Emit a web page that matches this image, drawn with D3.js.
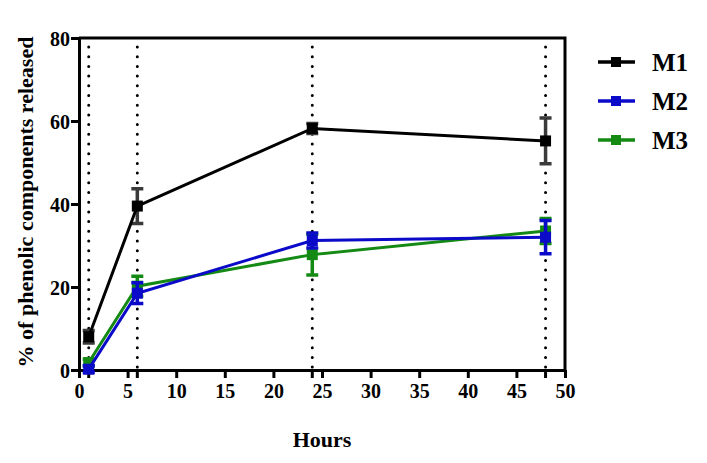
<!DOCTYPE html>
<html>
<head>
<meta charset="utf-8">
<script src="https://cdn.jsdelivr.net/npm/d3@7"></script>
<style>
  body { margin: 0; background: #fff; }
  text { font-family: "Liberation Serif", serif; font-weight: bold; fill: #000; }
</style>
</head>
<body>
<div id="chart"></div>
<script>
// data
const hours = [1, 6, 24, 48];
const seriesNames = ["M1", "M2", "M3"];
const m1Values = [8, 39.5, 58.2, 55.2];
const m1Errors = [1.5, 4.2, 1.2, 5.5];
const m2Values = [0.2, 18.5, 31.2, 32];
const m2Errors = [0.8, 2.5, 1.8, 4];
const m3Values = [1.8, 20.2, 27.8, 33.5];
const m3Errors = [0.8, 2.4, 4.9, 3];
const xTicks = [0, 5, 10, 15, 20, 25, 30, 35, 40, 45, 50];
const yTicks = [0, 20, 40, 60, 80];

const colors = { M1: "#000000", M2: "#0a0ac8", M3: "#148a14" };
const errColors = { M1: "#3a3a3a", M2: "#0a0ac8", M3: "#148a14" };

const series = [
  { name: "M1", values: m1Values, errors: m1Errors },
  { name: "M2", values: m2Values, errors: m2Errors },
  { name: "M3", values: m3Values, errors: m3Errors },
];

const dimensions = { width: 707, height: 463 };
const margin = { top: 38, left: 79, right: 142, bottom: 93 };
const innerW = dimensions.width - margin.left - margin.right;
const innerH = dimensions.height - margin.top - margin.bottom;

const xScale = d3.scaleLinear().domain([0, 50]).range([0, innerW]);
const yScale = d3.scaleLinear().domain([0, 80]).range([innerH, 0]);

const svg = d3.select("#chart")
  .append("svg")
  .attr("width", dimensions.width)
  .attr("height", dimensions.height);

const bounds = svg.append("g")
  .attr("transform", `translate(${margin.left},${margin.top})`);

// dotted sampling lines
bounds.append("g").classed("guides", true)
  .selectAll("line")
  .data(hours)
  .join("line")
  .attr("x1", d => xScale(d))
  .attr("x2", d => xScale(d))
  .attr("y1", 9)
  .attr("y2", innerH)
  .attr("stroke", "#000")
  .attr("stroke-width", 3)
  .attr("stroke-linecap", "round")
  .attr("stroke-dasharray", "0 9.7");

// extra ticks under the axis at sampling hours
bounds.append("g")
  .selectAll("line")
  .data(hours)
  .join("line")
  .attr("x1", d => xScale(d))
  .attr("x2", d => xScale(d))
  .attr("y1", innerH)
  .attr("y2", innerH + 8)
  .attr("stroke", "#000")
  .attr("stroke-width", 3);

// frame (top and right)
bounds.append("path")
  .attr("d", `M0,0H${innerW}V${innerH}`)
  .attr("fill", "none")
  .attr("stroke", "#000")
  .attr("stroke-width", 3);

const xAxis = bounds.append("g")
  .attr("transform", `translate(0,${innerH})`)
  .call(d3.axisBottom(xScale).tickValues(xTicks).tickSize(8).tickPadding(6).tickSizeOuter(0));
const yAxis = bounds.append("g")
  .call(d3.axisLeft(yScale).tickValues(yTicks).tickSize(8).tickPadding(1).tickSizeOuter(0));

[xAxis, yAxis].forEach(ax => {
  ax.select(".domain").attr("stroke", "#000").attr("stroke-width", 3);
  ax.selectAll(".tick line").attr("stroke", "#000").attr("stroke-width", 3);
  ax.selectAll(".tick text")
    .style("font-family", "Liberation Serif, serif")
    .style("font-weight", "bold")
    .style("font-size", "20px")
    .attr("fill", "#000");
});
yAxis.selectAll(".tick text").attr("dy", "0.36em");

const lineGen = d3.line()
  .x((d, i) => xScale(hours[i]))
  .y(d => yScale(d));

const drawOrder = [series[0], series[2], series[1]];
drawOrder.forEach(s => {
  const g = bounds.append("g").classed(s.name, true);
  const pts = s.values.map((v, i) => ({ x: hours[i], y: v, e: s.errors[i] }));

  g.selectAll("path.err")
    .data(pts)
    .join("path")
    .classed("err", true)
    .attr("d", d => {
      const x = xScale(d.x), y1 = yScale(d.y + d.e), y2 = yScale(d.y - d.e);
      return `M${x},${y1}V${y2}M${x - 6},${y1}H${x + 6}M${x - 6},${y2}H${x + 6}`;
    })
    .attr("fill", "none")
    .attr("stroke", errColors[s.name])
    .attr("stroke-width", 3.5);

  g.append("path")
    .datum(s.values)
    .attr("d", lineGen)
    .attr("fill", "none")
    .attr("stroke", colors[s.name])
    .attr("stroke-width", 3);

  g.selectAll("rect")
    .data(pts)
    .join("rect")
    .attr("x", d => xScale(d.x) - 5.5)
    .attr("y", d => yScale(d.y) - 5.5)
    .attr("width", 11)
    .attr("height", 11)
    .attr("fill", colors[s.name]);
});

// legend
const legend = svg.append("g").attr("transform", "translate(598,62)");
const rows = legend.selectAll("g")
  .data(seriesNames)
  .join("g")
  .attr("transform", (d, i) => `translate(0,${i * 39})`);
rows.append("line")
  .attr("x1", 0).attr("x2", 37)
  .attr("stroke", d => colors[d])
  .attr("stroke-width", 3.5);
rows.append("rect")
  .attr("x", 13).attr("y", -5)
  .attr("width", 10).attr("height", 10)
  .attr("fill", d => colors[d]);
rows.append("text")
  .attr("x", 54)
  .attr("y", 9)
  .style("font-size", "25px")
  .text(d => d);

// axis titles
svg.append("text")
  .attr("x", margin.left + xScale(25))
  .attr("y", 447)
  .attr("text-anchor", "middle")
  .style("font-size", "22px")
  .text("Hours");

svg.append("text")
  .attr("transform", `translate(33,${margin.top + innerH / 2 - 2}) rotate(-90)`)
  .attr("text-anchor", "middle")
  .style("font-size", "22px")
  .text("% of phenolic components released");
</script>
</body>
</html>
